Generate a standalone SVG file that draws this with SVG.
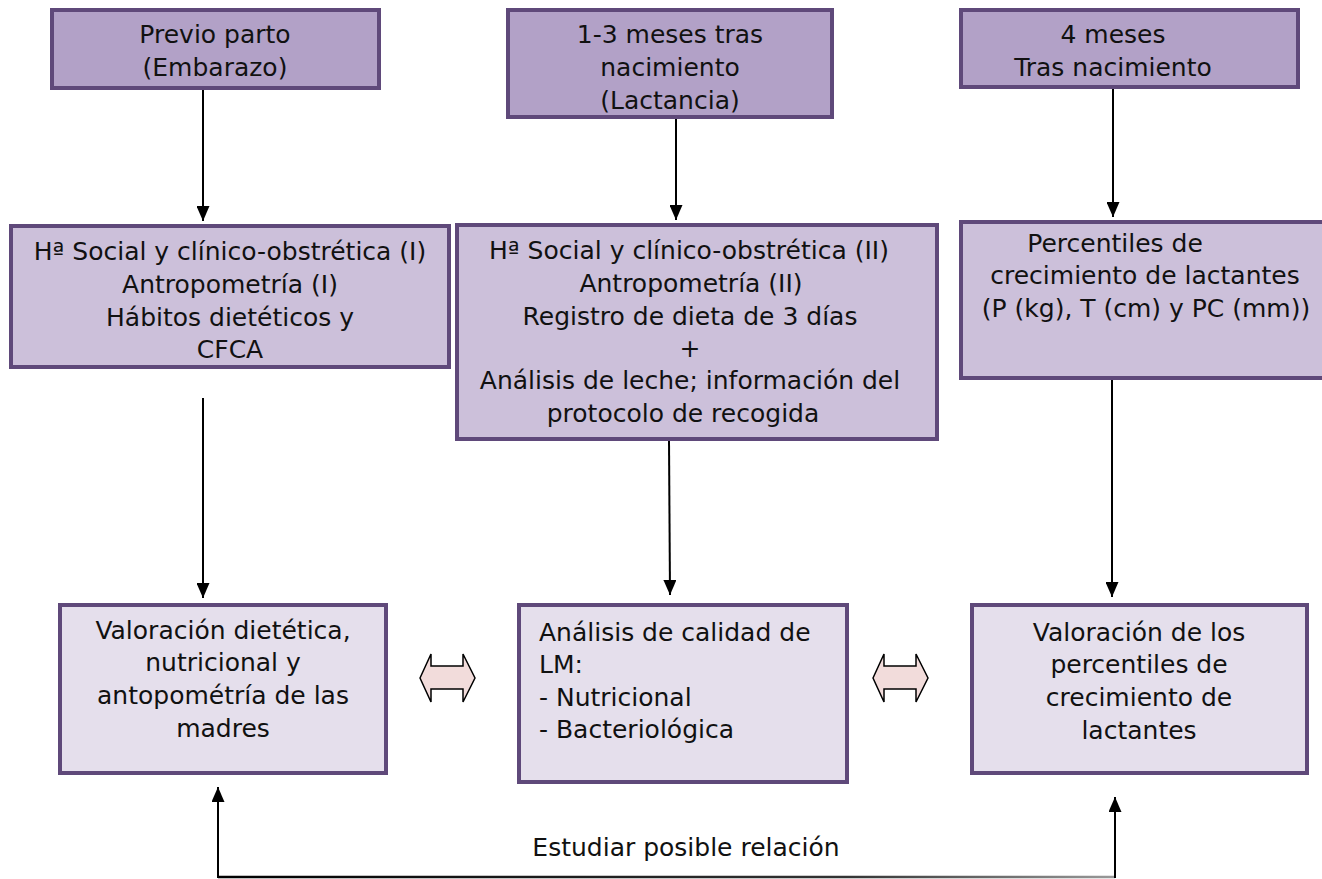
<svg xmlns="http://www.w3.org/2000/svg" width="1322" height="879" viewBox="0 0 1322 879">
<style>
.b{stroke:#5f497a;stroke-width:4}
.top{fill:#b2a1c7}
.mid{fill:#ccc0da}
.bot{fill:#e5dfec}
text{font-family:"DejaVu Sans","Liberation Sans",sans-serif;font-size:25px;fill:#111}
.c{text-anchor:middle}
.ln{stroke:#000;stroke-width:2;fill:none}
.dbl{fill:#f2dcdb;stroke:#000;stroke-width:1.5;stroke-linejoin:miter}
</style>
<defs>
<marker id="ah" markerWidth="15" markerHeight="13" refX="15" refY="6.5" orient="auto" markerUnits="userSpaceOnUse" viewBox="0 0 15 13">
<path d="M0,0 L15,6.5 L0,13 Z" fill="#000"/>
</marker>
<linearGradient id="g" gradientUnits="userSpaceOnUse" x1="218" y1="0" x2="1115" y2="0">
<stop offset="0" stop-color="#000"/><stop offset="0.7" stop-color="#333"/><stop offset="1" stop-color="#999"/>
</linearGradient>
</defs>
<g id="n-previo"><rect class="b top" x="52" y="10" width="327" height="78"/>
<text class="c" x="215" y="43">Previo parto</text><text class="c" x="215" y="76">(Embarazo)</text></g>
<g id="n-lact"><rect class="b top" x="508" y="10" width="324" height="107"/>
<text class="c" x="670" y="43">1-3 meses tras</text><text class="c" x="670" y="76">nacimiento</text><text class="c" x="670" y="109">(Lactancia)</text></g>
<g id="n-4m"><rect class="b top" x="961" y="10" width="337" height="77"/>
<text class="c" x="1113" y="43">4 meses</text><text class="c" x="1113" y="76">Tras nacimiento</text></g>
<g id="n-hist1"><rect class="b mid" x="11" y="226" width="438" height="141"/>
<text class="c" x="230" y="260">Hª Social y clínico-obstrética (I)</text><text class="c" x="230" y="293">Antropometría (I)</text><text class="c" x="230" y="326">Hábitos dietéticos y</text><text class="c" x="230" y="358">CFCA</text></g>
<g id="n-hist2"><rect class="b mid" x="457" y="225" width="480" height="214"/>
<text class="c" x="689" y="259">Hª Social y clínico-obstrética (II)</text><text class="c" x="691" y="292">Antropometría (II)</text><text class="c" x="690" y="325">Registro de dieta de 3 días</text><text class="c" x="690" y="357">+</text><text class="c" x="690" y="389">Análisis de leche; información del</text><text class="c" x="683" y="422">protocolo de recogida</text></g>
<g id="n-perc"><rect class="b mid" x="961" y="222" width="370" height="156"/>
<text class="c" x="1115" y="252">Percentiles de</text><text class="c" x="1145" y="284">crecimiento de lactantes</text><text class="c" x="1146" y="317">(P (kg), T (cm) y PC (mm))</text></g>
<g id="n-val1"><rect class="b bot" x="60" y="605" width="326" height="168"/>
<text class="c" x="223" y="639">Valoración dietética,</text><text class="c" x="223" y="671">nutricional  y</text><text class="c" x="223" y="704">antopométría de las</text><text class="c" x="223" y="737">madres</text></g>
<g id="n-lm"><rect class="b bot" x="519" y="605" width="328" height="177"/>
<text x="539" y="641">Análisis de calidad de</text><text x="539" y="673">LM:</text><text x="539" y="706">- Nutricional</text><text x="539" y="738">- Bacteriológica</text></g>
<g id="n-val3"><rect class="b bot" x="972" y="605" width="335" height="168"/>
<text class="c" x="1139" y="641">Valoración de los</text><text class="c" x="1139" y="673">percentiles de</text><text class="c" x="1139" y="706">crecimiento de</text><text class="c" x="1139" y="739">lactantes</text></g>
<g id="connectors">
<line class="ln" x1="203" y1="90" x2="203" y2="221" marker-end="url(#ah)"/>
<line class="ln" x1="676" y1="119" x2="676" y2="220" marker-end="url(#ah)"/>
<line class="ln" x1="1113" y1="89" x2="1113" y2="217" marker-end="url(#ah)"/>
<line class="ln" x1="203" y1="398" x2="203" y2="598" marker-end="url(#ah)"/>
<line class="ln" x1="669" y1="441" x2="670" y2="595" marker-end="url(#ah)"/>
<line class="ln" x1="1112" y1="380" x2="1112" y2="597" marker-end="url(#ah)"/>
<line x1="218" y1="877" x2="1115" y2="877" stroke="url(#g)" stroke-width="2.5"/>
<line class="ln" x1="218" y1="878" x2="218" y2="787" marker-end="url(#ah)"/>
<line class="ln" x1="1115" y1="878" x2="1115" y2="797" marker-end="url(#ah)"/>
<path class="dbl" d="M420,678 L431,654 L431,666 L463,666 L463,654 L475,678 L463,702 L463,689 L431,689 L431,702 Z"/>
<path class="dbl" d="M873,678 L884,654 L884,666 L916,666 L916,654 L928,678 L916,702 L916,689 L884,689 L884,702 Z"/>
</g>
<text class="c" x="686" y="856">Estudiar posible relación</text>
</svg>
